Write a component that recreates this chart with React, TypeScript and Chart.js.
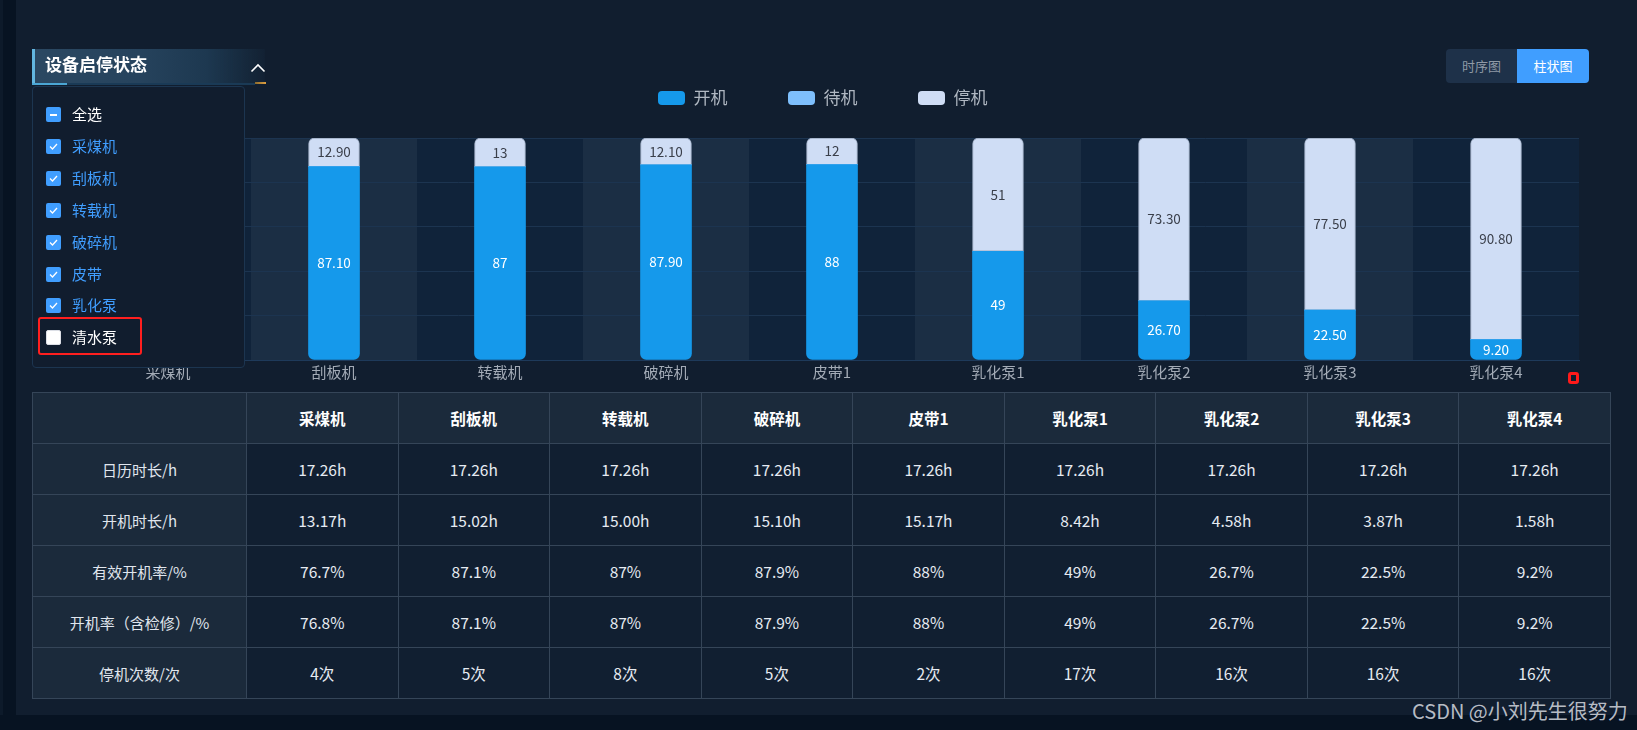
import React, { useEffect, useRef } from 'react';
import { Chart, registerables } from 'chart.js';

Chart.register(...registerables);

const FONT = "'Noto Sans CJK SC', 'Noto Sans', sans-serif";

// ---- chart data ----
const categories = ['采煤机', '刮板机', '转载机', '破碎机', '皮带1', '乳化泵1', '乳化泵2', '乳化泵3', '乳化泵4'];
const seriesNames = ['开机', '待机', '停机'];
const runValues = ['76.70', '87.10', '87', '87.90', '88', '49', '26.70', '22.50', '9.20'];
const standbyValues = [0, 0, 0, 0, 0, 0, 0, 0, 0];
const stopValues = ['23.30', '12.90', '13', '12.10', '12', '51', '73.30', '77.50', '90.80'];
const seriesColors = ['#1599eb', '#7ebffc', '#cfddf5'];
const labelColors = ['#ffffff', '#ffffff', '#3a3f4a'];
const yMin = 0;
const yMax = 100;
const yStep = 20;

// ---- table data ----
const rowLabels = ['日历时长/h', '开机时长/h', '有效开机率/%', '开机率（含检修）/%', '停机次数/次'];
const calendarHours = ['17.26h', '17.26h', '17.26h', '17.26h', '17.26h', '17.26h', '17.26h', '17.26h', '17.26h'];
const runHours = ['13.17h', '15.02h', '15.00h', '15.10h', '15.17h', '8.42h', '4.58h', '3.87h', '1.58h'];
const effectiveRate = ['76.7%', '87.1%', '87%', '87.9%', '88%', '49%', '26.7%', '22.5%', '9.2%'];
const rateWithMaint = ['76.8%', '87.1%', '87%', '87.9%', '88%', '49%', '26.7%', '22.5%', '9.2%'];
const stopCounts = ['4次', '5次', '8次', '5次', '2次', '17次', '16次', '16次', '16次'];
const tableRows = [calendarHours, runHours, effectiveRate, rateWithMaint, stopCounts];

// ---- filter list ----
const filterItems = ['采煤机', '刮板机', '转载机', '破碎机', '皮带', '乳化泵', '清水泵'];
const filterChecked = [true, true, true, true, true, true, false];

const bandPlugin = {
  id: 'bands',
  beforeDraw(chart: any) {
    const { ctx, chartArea, scales } = chart;
    const x = scales.x;
    const n = chart.data.labels.length;
    const step = (chartArea.right - chartArea.left) / n;
    ctx.save();
    for (let i = 0; i < n; i++) {
      const cx = x.getPixelForValue(i);
      ctx.fillStyle = i % 2 === 0 ? '#10233a' : '#1b2e44';
      ctx.fillRect(cx - step / 2, chartArea.top, step, chartArea.bottom - chartArea.top);
    }
    ctx.restore();
  },
};

const valueLabelPlugin = {
  id: 'valueLabels',
  afterDatasetsDraw(chart: any) {
    const ctx = chart.ctx;
    chart.data.datasets.forEach((ds: any, di: number) => {
      const meta = chart.getDatasetMeta(di);
      meta.data.forEach((el: any, i: number) => {
        const raw = ds.data[i];
        if (!(+raw > 0)) return;
        const { x, y, base } = el.getProps(['x', 'y', 'base'], true);
        ctx.save();
        ctx.font = `13.5px ${FONT}`;
        ctx.fillStyle = labelColors[di];
        ctx.textAlign = 'center';
        ctx.textBaseline = 'middle';
        ctx.fillText(String(raw), x, (y + base) / 2);
        ctx.restore();
      });
    });
  },
};

const legendSpacer = {
  id: 'legendSpacer',
  beforeInit(chart: any) {
    const orig = chart.legend.fit;
    chart.legend.fit = function fit() {
      orig.bind(chart.legend)();
      this.height += 21.5;
    };
  },
};

function BarChart() {
  const ref = useRef<HTMLCanvasElement>(null);
  useEffect(() => {
    if (!ref.current) return;
    const chart = new Chart(ref.current, {
      type: 'bar',
      data: {
        labels: categories,
        datasets: [
          {
            label: seriesNames[0],
            data: runValues as any,
            backgroundColor: seriesColors[0],
            borderRadius: { topLeft: 0, topRight: 0, bottomLeft: 6, bottomRight: 6 },
            borderSkipped: false,
            barThickness: 51,
          },
          {
            label: seriesNames[1],
            data: standbyValues,
            backgroundColor: seriesColors[1],
            borderSkipped: false,
            barThickness: 51,
          },
          {
            label: seriesNames[2],
            data: stopValues as any,
            backgroundColor: seriesColors[2],
            borderColor: '#9aa8bf',
            borderWidth: 1,
            borderRadius: { topLeft: 6, topRight: 6, bottomLeft: 0, bottomRight: 0 },
            borderSkipped: false,
            barThickness: 51,
          },
        ],
      },
      options: {
        responsive: false,
        animation: false,
        devicePixelRatio: 1,
        layout: { padding: { top: 29, left: 50.5, right: 46, bottom: 8 } },
        plugins: {
          tooltip: { enabled: false },
          legend: {
            position: 'top',
            labels: {
              font: { size: 17, family: FONT },
              color: '#b0b8c2',
              boxWidth: 27,
              boxHeight: 14,
              padding: 60.5,
              useBorderRadius: true,
              borderRadius: 4,
              generateLabels: (chart: any) =>
                chart.data.datasets.map((ds: any, i: number) => ({
                  text: ds.label,
                  fillStyle: seriesColors[i],
                  strokeStyle: 'rgba(0,0,0,0)',
                  lineWidth: 0,
                  borderRadius: 4,
                  fontColor: '#b0b8c2',
                  datasetIndex: i,
                  hidden: false,
                })),
            },
          },
        },
        scales: {
          x: {
            stacked: true,
            grid: { display: false, drawTicks: false },
            border: { display: true, color: '#1e3a5a', width: 1 },
            ticks: { color: '#a3abb6', font: { size: 15, family: FONT }, padding: 3 },
          },
          y: {
            stacked: true,
            min: yMin,
            max: yMax,
            afterFit: (scale: any) => {
              scale.width = 18.5;
            },
            ticks: { display: false, stepSize: yStep },
            grid: { color: '#1c3450', drawTicks: false, lineWidth: 1 },
            border: { display: false },
          },
        },
      } as any,
      plugins: [bandPlugin, valueLabelPlugin, legendSpacer],
    });
    return () => chart.destroy();
  }, []);
  return <canvas ref={ref} width={1609} height={392} style={{ display: 'block' }} />;
}

function CheckBox({ state }: { state: 'checked' | 'indeterminate' | 'unchecked' }) {
  const base: React.CSSProperties = {
    position: 'absolute',
    left: 0,
    top: 0,
    width: 15,
    height: 15,
    borderRadius: 2,
    boxSizing: 'border-box',
  };
  if (state === 'unchecked') {
    return <div style={{ ...base, background: '#ffffff', border: '1px solid #dcdfe6' }} />;
  }
  return (
    <div style={{ ...base, background: '#409eff' }}>
      {state === 'checked' ? (
        <svg width="15" height="15" style={{ position: 'absolute', left: 0, top: 0 }}>
          <polyline points="4,7.5 6.5,10 11,5" fill="none" stroke="#ffffff" strokeWidth="1.3" />
        </svg>
      ) : (
        <div style={{ position: 'absolute', left: 4, top: 6.5, width: 7, height: 2, background: '#fff' }} />
      )}
    </div>
  );
}

export default function App() {
  const itemRows = [{ text: '全选', state: 'indeterminate' as const, color: '#ffffff' }].concat(
    filterItems.map((t, i) => ({
      text: t,
      state: (filterChecked[i] ? 'checked' : 'unchecked') as any,
      color: filterChecked[i] ? '#409eff' : '#ffffff',
    }))
  );

  const cellBase: React.CSSProperties = {
    border: '1px solid #354558',
    textAlign: 'center',
    verticalAlign: 'middle',
    padding: 0,
    height: 50,
    boxSizing: 'border-box',
  };

  return (
    <div
      style={{
        position: 'absolute',
        left: 0,
        top: 0,
        width: 1637,
        height: 730,
        background: '#071322',
        overflow: 'hidden',
        fontFamily: FONT,
      }}
    >
      <div style={{ position: 'absolute', left: 0, top: 0, width: 3, height: 715, background: '#0d1a2a' }} />
      <div style={{ position: 'absolute', left: 16, top: 0, width: 1621, height: 715, background: '#111e2f' }} />

      <div style={{ position: 'absolute', left: 16, top: 0, width: 1609, height: 392 }}>
        <BarChart />
      </div>

      {/* header */}
      <div
        style={{
          position: 'absolute',
          left: 32,
          top: 49,
          width: 233,
          height: 34,
          boxSizing: 'border-box',
          borderLeft: '3px solid #62b6e0',
          background: 'linear-gradient(90deg, #2b4862 0%, #26435d 45%, #1d3850 75%, rgba(20,36,54,0.6) 100%)',
        }}
      >
        <div
          style={{
            position: 'absolute',
            left: 10,
            top: 0,
            lineHeight: '30px',
            fontSize: 17,
            fontWeight: 700,
            color: '#ffffff',
            whiteSpace: 'nowrap',
          }}
        >
          设备启停状态
        </div>
        <svg width="16" height="10" style={{ position: 'absolute', left: 215, top: 14 }}>
          <polyline points="1.5,8.5 8,2 14.5,8.5" fill="none" stroke="#ffffff" strokeWidth="1.6" />
        </svg>
      </div>
      <div style={{ position: 'absolute', left: 32, top: 83, width: 223, height: 2, background: '#1a3a56' }} />
      <div style={{ position: 'absolute', left: 32, top: 83, width: 35, height: 2, background: '#4ba6d4' }} />
      <div
        style={{
          position: 'absolute',
          left: 255,
          top: 82,
          width: 11,
          height: 2,
          background: 'linear-gradient(90deg, #8a6a2e, #e0a040)',
        }}
      />

      {/* dropdown */}
      <div
        style={{
          position: 'absolute',
          left: 32,
          top: 86,
          width: 213,
          height: 282,
          boxSizing: 'border-box',
          border: '1px solid #1c3550',
          borderRadius: 4,
          background: '#111d2e',
        }}
      />
      {itemRows.map((it, i) => (
        <div key={i} style={{ position: 'absolute', left: 46, top: 114.5 + 31.9 * i - 7.5, width: 190, height: 15 }}>
          <CheckBox state={it.state} />
          <div
            style={{
              position: 'absolute',
              left: 26,
              top: -3,
              lineHeight: '20px',
              fontSize: 15,
              color: it.color,
              whiteSpace: 'nowrap',
            }}
          >
            {it.text}
          </div>
        </div>
      ))}
      <div
        style={{
          position: 'absolute',
          left: 38,
          top: 317,
          width: 104,
          height: 38,
          boxSizing: 'border-box',
          border: '2px solid #ff1f1f',
          borderRadius: 3,
        }}
      />

      {/* toggle */}
      <div
        style={{
          position: 'absolute',
          left: 1446,
          top: 49,
          width: 143,
          height: 34,
          borderRadius: 4,
          overflow: 'hidden',
          display: 'flex',
          fontSize: 13,
        }}
      >
        <div style={{ width: 71, height: 34, lineHeight: '34px', textAlign: 'center', background: '#1e3149', color: '#8f99a6' }}>
          时序图
        </div>
        <div style={{ width: 72, height: 34, lineHeight: '34px', textAlign: 'center', background: '#409eff', color: '#ffffff' }}>
          柱状图
        </div>
      </div>

      {/* small red marker */}
      <div
        style={{
          position: 'absolute',
          left: 1568,
          top: 372,
          width: 11,
          height: 12,
          boxSizing: 'border-box',
          border: '3px solid #ff1a1a',
          borderRadius: 3,
        }}
      />

      {/* table */}
      <table
        style={{
          position: 'absolute',
          left: 32,
          top: 392,
          width: 1579,
          borderCollapse: 'collapse',
          tableLayout: 'fixed',
          fontSize: 15.5,
          color: '#e6ebf2',
        }}
      >
        <colgroup>
          <col style={{ width: 214 }} />
          {categories.map((c) => (
            <col key={c} />
          ))}
        </colgroup>
        <thead>
          <tr style={{ height: 51 }}>
            <th style={{ ...cellBase, background: '#1b2a3b' }} />
            {categories.map((c) => (
              <th key={c} style={{ ...cellBase, background: '#1b2a3b', fontWeight: 700, color: '#ffffff' }}>
                {c}
              </th>
            ))}
          </tr>
        </thead>
        <tbody>
          {tableRows.map((row, ri) => (
            <tr key={ri} style={{ height: 51 }}>
              <td style={{ ...cellBase, background: '#1b2a3b', color: '#e0e6ee', fontSize: 15 }}>{rowLabels[ri]}</td>
              {row.map((v, ci) => (
                <td key={ci} style={{ ...cellBase, background: '#111f31' }}>
                  {v}
                </td>
              ))}
            </tr>
          ))}
        </tbody>
      </table>

      {/* watermark */}
      <div
        style={{
          position: 'absolute',
          left: 1412,
          top: 699,
          fontSize: 20,
          lineHeight: '24px',
          color: 'rgba(214,218,224,0.85)',
          whiteSpace: 'nowrap',
        }}
      >
        CSDN @小刘先生很努力
      </div>
    </div>
  );
}
